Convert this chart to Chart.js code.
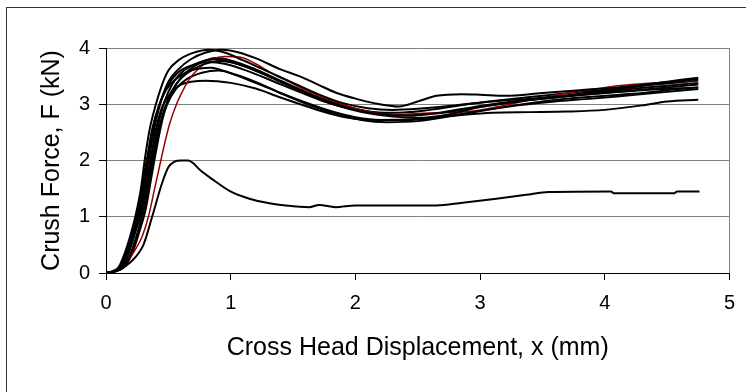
<!DOCTYPE html>
<html>
<head>
<meta charset="utf-8">
<script src="https://cdn.jsdelivr.net/npm/chart.js@4.4.1/dist/chart.umd.min.js"></script>
<style>
  html, body { margin: 0; padding: 0; background: #fff; overflow: hidden; }
  #frame {
    position: absolute; left: 6px; top: 7px; width: 760px; height: 400px;
    border: 1.5px solid #333; box-sizing: border-box;
  }
  #wrap { position: absolute; left: 0; top: 0; width: 746px; height: 392px; }
</style>
</head>
<body>
<div id="frame"></div>
<div id="wrap"><canvas id="chart" width="746" height="392"></canvas></div>
<script>
// Crush force vs cross head displacement, one array of [x (mm), F (kN)] per test
const test1 = [[0,0],[0.05,0.03],[0.1,0.1],[0.15,0.35],[0.2,0.7],[0.24,1.05],[0.28,1.5],[0.31,2.0],[0.35,2.55],[0.4,3.0],[0.45,3.35],[0.5,3.6],[0.58,3.78],[0.68,3.9],[0.83,3.97],[0.95,3.92],[1.1,3.78],[1.3,3.58],[1.5,3.38],[1.7,3.18],[1.9,3.02],[2.1,2.93],[2.3,2.9],[2.5,2.92],[2.8,2.98],[3.1,3.05],[3.4,3.1],[3.7,3.15],[4.0,3.2],[4.3,3.25],[4.75,3.3]]
const test2 = [[0,0],[0.06,0.03],[0.12,0.12],[0.17,0.4],[0.22,0.75],[0.27,1.1],[0.31,1.6],[0.35,2.1],[0.39,2.6],[0.44,3.05],[0.5,3.4],[0.58,3.62],[0.68,3.8],[0.8,3.92],[0.93,3.97],[1.05,3.93],[1.2,3.82],[1.4,3.62],[1.55,3.5],[1.7,3.35],[1.85,3.2],[2.0,3.1],[2.15,3.02],[2.35,2.96],[2.5,3.05],[2.65,3.15],[2.85,3.18],[3.0,3.17],[3.2,3.15],[3.5,3.2],[3.8,3.25],[4.1,3.3],[4.4,3.37],[4.75,3.45]]
const test3 = [[0,0],[0.07,0.03],[0.13,0.1],[0.18,0.35],[0.23,0.7],[0.28,1.05],[0.33,1.6],[0.37,2.1],[0.42,2.65],[0.47,3.05],[0.53,3.35],[0.6,3.55],[0.7,3.7],[0.87,3.8],[1.0,3.75],[1.2,3.6],[1.4,3.4],[1.6,3.2],[1.8,3.02],[2.0,2.9],[2.2,2.82],[2.4,2.8],[2.7,2.85],[3.0,2.95],[3.3,3.05],[3.6,3.12],[3.9,3.2],[4.2,3.27],[4.5,3.33],[4.75,3.38]]
const test4 = [[0,0],[0.08,0.03],[0.14,0.1],[0.2,0.35],[0.26,0.75],[0.3,1.1],[0.35,1.65],[0.39,2.15],[0.44,2.7],[0.5,3.1],[0.56,3.35],[0.65,3.55],[0.77,3.7],[0.92,3.77],[1.05,3.72],[1.25,3.55],[1.45,3.35],[1.65,3.15],[1.85,2.98],[2.05,2.86],[2.3,2.78],[2.5,2.76],[2.75,2.82],[3.0,2.95],[3.3,3.05],[3.6,3.13],[3.9,3.22],[4.2,3.3],[4.5,3.4],[4.75,3.47]]
const test5 = [[0,0],[0.05,0.02],[0.1,0.08],[0.15,0.3],[0.2,0.65],[0.25,1.05],[0.29,1.55],[0.33,2.05],[0.37,2.55],[0.42,2.95],[0.48,3.25],[0.56,3.45],[0.68,3.6],[0.84,3.65],[1.0,3.55],[1.2,3.38],[1.4,3.2],[1.6,3.03],[1.8,2.88],[2.0,2.77],[2.2,2.72],[2.4,2.72],[2.7,2.78],[3.0,2.88],[3.3,2.98],[3.6,3.05],[3.9,3.1],[4.2,3.16],[4.5,3.22],[4.75,3.27]]
const test6 = [[0,0],[0.08,0.04],[0.15,0.12],[0.2,0.35],[0.25,0.7],[0.3,1.1],[0.34,1.6],[0.38,2.1],[0.43,2.6],[0.49,3.0],[0.56,3.27],[0.65,3.45],[0.77,3.56],[0.9,3.6],[1.05,3.52],[1.25,3.35],[1.45,3.15],[1.65,2.97],[1.85,2.82],[2.05,2.72],[2.25,2.68],[2.5,2.7],[2.8,2.8],[3.1,2.92],[3.4,3.02],[3.7,3.1],[4.0,3.15],[4.3,3.2],[4.55,3.26],[4.75,3.3]]
const test7 = [[0,0],[0.07,0.03],[0.13,0.1],[0.18,0.35],[0.23,0.7],[0.28,1.1],[0.32,1.6],[0.36,2.05],[0.4,2.55],[0.45,2.95],[0.52,3.2],[0.6,3.35],[0.8,3.42],[1.0,3.38],[1.2,3.28],[1.4,3.12],[1.6,2.97],[1.8,2.83],[2.0,2.74],[2.2,2.72],[2.5,2.74],[2.8,2.8],[3.1,2.85],[3.4,2.86],[3.7,2.87],[4.0,2.9],[4.3,2.98],[4.5,3.05],[4.75,3.08]]
const test8 = [[0,0],[0.1,0.05],[0.15,0.12],[0.21,0.35],[0.27,0.75],[0.32,1.15],[0.36,1.65],[0.4,2.15],[0.45,2.7],[0.5,3.08],[0.57,3.38],[0.66,3.6],[0.76,3.74],[0.88,3.82],[1.0,3.78],[1.2,3.62],[1.4,3.42],[1.6,3.22],[1.8,3.05],[2.0,2.92],[2.2,2.84],[2.45,2.8],[2.7,2.86],[3.0,2.97],[3.3,3.06],[3.6,3.12],[3.9,3.18],[4.2,3.24],[4.5,3.3],[4.75,3.35]]
const test9 = [[0,0],[0.06,0.03],[0.12,0.1],[0.17,0.33],[0.22,0.7],[0.26,1.05],[0.3,1.55],[0.34,2.05],[0.38,2.6],[0.43,3.0],[0.5,3.35],[0.58,3.57],[0.7,3.7],[0.82,3.75],[0.95,3.72],[1.15,3.58],[1.35,3.4],[1.55,3.22],[1.75,3.05],[1.95,2.93],[2.15,2.86],[2.35,2.85],[2.6,2.9],[2.9,3.0],[3.2,3.08],[3.5,3.15],[3.8,3.22],[4.1,3.28],[4.4,3.35],[4.75,3.42]]
const testRed = [[0,0],[0.11,0.06],[0.17,0.2],[0.23,0.4],[0.29,0.65],[0.34,1.0],[0.39,1.5],[0.43,1.9],[0.47,2.3],[0.51,2.65],[0.56,2.97],[0.6,3.17],[0.67,3.45],[0.75,3.65],[0.85,3.8],[0.95,3.85],[1.07,3.84],[1.2,3.72],[1.33,3.55],[1.47,3.4],[1.6,3.25],[1.87,3.02],[2.08,2.88],[2.27,2.81],[2.54,2.84],[2.91,2.87],[3.15,2.96],[3.39,3.07],[3.71,3.2],[3.95,3.28],[4.11,3.33],[4.46,3.39],[4.72,3.42]]
const testLow = [[0,0],[0.1,0.05],[0.2,0.2],[0.3,0.5],[0.37,1.0],[0.45,1.6],[0.5,1.88],[0.55,1.98],[0.6,2.0],[0.66,2.0],[0.7,1.95],[0.75,1.84],[0.87,1.64],[0.99,1.46],[1.15,1.32],[1.31,1.24],[1.44,1.2],[1.63,1.17],[1.71,1.21],[1.84,1.17],[2.0,1.2],[2.65,1.2],[2.86,1.25],[3.13,1.32],[3.37,1.39],[3.55,1.44],[4.05,1.45],[4.07,1.42],[4.56,1.42],[4.58,1.45],[4.76,1.45]]

const xTicks = [0, 1, 2, 3, 4, 5]
const yTicks = [0, 1, 2, 3, 4]

const allTests = [test1, test2, test3, test4, test5, testRed, test6, test7, test8, test9, testLow]

const toXY = (pts) => pts.map((p) => ({ x: p[0], y: p[1] }))

const datasets = allTests.map((pts) => {
  const red = pts === testRed
  return {
    data: toXY(pts),
    borderColor: red ? "#9a0000" : "#000000",
    borderWidth: red ? 1.5 : 2,
    pointRadius: 0,
    fill: false,
    cubicInterpolationMode: "monotone",
  }
})

const GRID = "#808080"

new Chart(document.getElementById("chart").getContext("2d"), {
  type: "line",
  data: { datasets },
  options: {
    responsive: false,
    animation: false,
    devicePixelRatio: 1,
    layout: { padding: { top: 48, right: 15, bottom: 0, left: 0 } },
    plugins: { legend: { display: false }, tooltip: { enabled: false } },
    scales: {
      x: {
        type: "linear",
        min: 0,
        max: 5,
        afterBuildTicks: (s) => { s.ticks = xTicks.map((v) => ({ value: v })) },
        afterFit: (s) => { s.height = 119 },
        ticks: { font: { family: "Liberation Sans", size: 20 }, color: "#000", padding: 11 },
        grid: {
          color: (c) => (c.tick && c.tick.value === 5 ? GRID : c.tick && c.tick.value === 0 ? "#000" : "transparent"),
          tickColor: "#000",
          tickLength: 7,
          lineWidth: 1,
        },
        border: { color: "#000", width: 1 },
        title: {
          display: true,
          text: "Cross Head Displacement, x (mm)",
          font: { family: "Liberation Sans", size: 25 },
          color: "#000",
          padding: { top: 0, bottom: 29 },
        },
      },
      y: {
        min: 0,
        max: 4,
        afterBuildTicks: (s) => { s.ticks = yTicks.map((v) => ({ value: v })) },
        afterFit: (s) => { s.width = 106 },
        ticks: { font: { family: "Liberation Sans", size: 20 }, color: "#000", padding: 9 },
        grid: {
          color: (c) => (c.tick && c.tick.value === 0 ? "#000" : GRID),
          tickColor: "#000",
          tickLength: 7,
          lineWidth: 1,
        },
        border: { color: "#000", width: 1 },
        title: {
          display: true,
          text: "Crush Force, F (kN)",
          font: { family: "Liberation Sans", size: 25 },
          color: "#000",
          padding: { top: 37, bottom: 0 },
        },
      },
    },
  },
})
</script>
</body>
</html>
